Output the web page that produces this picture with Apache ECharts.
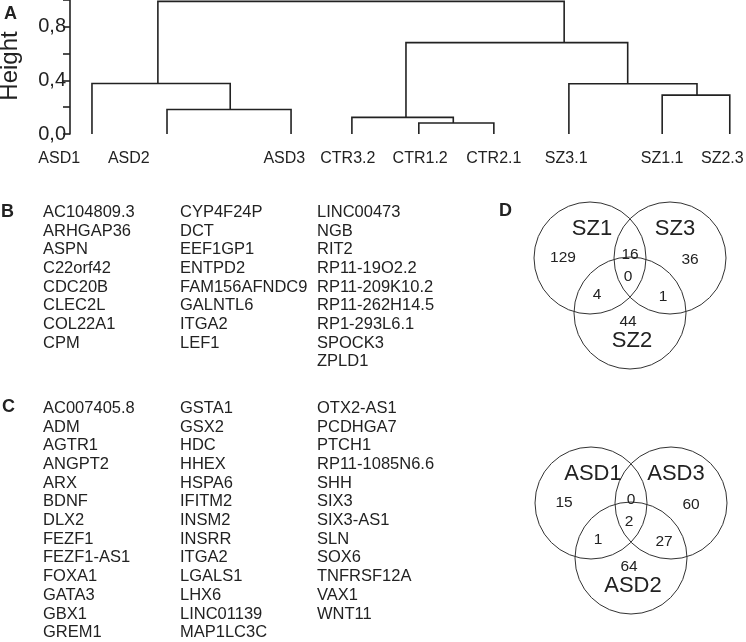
<!DOCTYPE html>
<html><head><meta charset="utf-8">
<script src="https://cdn.jsdelivr.net/npm/echarts@6/dist/echarts.min.js"></script>
<style>html,body{margin:0;padding:0;background:#fff}#c{width:746px;height:642px}</style>
</head><body><div id="c"></div>
<script>
// ---- Panel A: dendrogram data ----
const leafNames = ['ASD1','ASD2','ASD3','CTR3.2','CTR1.2','CTR2.1','SZ3.1','SZ1.1','SZ2.3'];
const leafPos   = [3.25, 14.35, 32.7, 41.7, 51.6, 62.7, 73.8, 87.6, 97.6];
const labelPos  = [-1.6, 8.7, 31.7, 41.1, 51.8, 62.7, 73.4, 87.6, 96.5];
// hclust-style merges: negative = leaf (1-based), positive = earlier merge (1-based)
const mergeLeft   = [-5, -4, -2, -8, -7, -1, 2, 6];
const mergeRight  = [-6,  1, -3, -9,  4,  3, 5, 7];
const mergeHeight = [0.082, 0.124, 0.183, 0.290, 0.375, 0.377, 0.682, 0.99];
const mergePos    = [56.7, 49.7, 23.7, 92.75, 82.5, 13.0, 73.1, 43.0];
const yTicks = [0, 0.4, 0.8];

// ---- Panel B / C gene lists ----
const listB1 = ['AC104809.3','ARHGAP36','ASPN','C22orf42','CDC20B','CLEC2L','COL22A1','CPM'];
const listB2 = ['CYP4F24P','DCT','EEF1GP1','ENTPD2','FAM156AFNDC9','GALNTL6','ITGA2','LEF1'];
const listB3 = ['LINC00473','NGB','RIT2','RP11-19O2.2','RP11-209K10.2','RP11-262H14.5','RP1-293L6.1','SPOCK3','ZPLD1'];
const listC1 = ['AC007405.8','ADM','AGTR1','ANGPT2','ARX','BDNF','DLX2','FEZF1','FEZF1-AS1','FOXA1','GATA3','GBX1','GREM1'];
const listC2 = ['GSTA1','GSX2','HDC','HHEX','HSPA6','IFITM2','INSM2','INSRR','ITGA2','LGALS1','LHX6','LINC01139','MAP1LC3C'];
const listC3 = ['OTX2-AS1','PCDHGA7','PTCH1','RP11-1085N6.6','SHH','SIX3','SIX3-AS1','SLN','SOX6','TNFRSF12A','VAX1','WNT11'];

// ---- Panel D Venn data: [A only, A&B, B only, A&B&C, A&C, B&C, C only] ----
const vennSZSets  = ['SZ1','SZ3','SZ2'];
const vennSZCounts = [129, 16, 36, 0, 4, 1, 44];
const vennASDSets = ['ASD1','ASD3','ASD2'];
const vennASDCounts = [15, 0, 60, 2, 1, 27, 64];

const FONT = "'Liberation Sans', Arial, Helvetica, sans-serif";
const INK = '#222';

// build dendrogram segments
function nodeX(id){ return id < 0 ? leafPos[-id-1] : mergePos[id-1]; }
function nodeH(id){ return id < 0 ? 0 : mergeHeight[id-1]; }
const dendroData = mergeHeight.map((h,i)=>[nodeX(mergeLeft[i]), nodeH(mergeLeft[i]), nodeX(mergeRight[i]), nodeH(mergeRight[i]), h]);
const leafLabelData = leafNames.map((n,i)=>[labelPos[i], 0, n]);

const chart = echarts.init(document.getElementById('c'), null, {renderer:'canvas'});

const graphics = [];
function panelLetter(t,x,y){ graphics.push({type:'text', left:x, top:y, style:{text:t, font:'bold 18px '+FONT, fill:INK}}); }
panelLetter('A', 4, 5);
panelLetter('B', 1, 203);
panelLetter('C', 2, 398);
panelLetter('D', 499, 202);
graphics.push({type:'text', x:10, y:66, rotation:Math.PI/2, style:{text:'Height', font:'24px '+FONT, fill:INK, textAlign:'center', textVerticalAlign:'middle'}});

function list(arr, x, yTop){
  graphics.push({type:'text', x:x, y:yTop, style:{text:arr.join('\n'), font:'16.5px '+FONT, fill:INK, lineHeight:18.7, textVerticalAlign:'top'}});
}
list(listB1, 43, 203); list(listB2, 180, 203); list(listB3, 317, 203);
list(listC1, 43, 399); list(listC2, 180, 399); list(listC3, 317, 399);

function venn(cx, cy, sets, counts){
  // three circles: top-left, top-right, bottom
  const r = 56;
  const cs = [[cx-40, cy-28],[cx+40, cy-28],[cx, cy+27]];
  cs.forEach(c=>graphics.push({type:'circle', shape:{cx:c[0], cy:c[1], r:r}, style:{fill:'none', stroke:'#333', lineWidth:1}}));
  const setPos = [[cx-38, cy-57],[cx+45, cy-57],[cx+2, cy+55]];
  sets.forEach((s,i)=>graphics.push({type:'text', x:setPos[i][0], y:setPos[i][1], style:{text:s, font:'22px '+FONT, fill:INK, textAlign:'center', textVerticalAlign:'middle'}}));
  const cp = [[cx-67, cy-28],[cx, cy-31],[cx+60, cy-26],[cx-2, cy-9],[cx-33, cy+9],[cx+33, cy+11],[cx-2, cy+36]];
  counts.forEach((v,i)=>graphics.push({type:'text', x:cp[i][0], y:cp[i][1], style:{text:String(v), font:'15.5px '+FONT, fill:INK, textAlign:'center', textVerticalAlign:'middle'}}));
}
venn(630, 286, vennSZSets, vennSZCounts);
venn(631, 531, vennASDSets, vennASDCounts);

chart.setOption({
  animation:false,
  backgroundColor:'#fff',
  grid:{left:70, right:0, top:0, height:134},
  xAxis:{type:'value', min:0, max:100, show:false},
  yAxis:{type:'value', min:0, max:1, interval:0.2,
    axisLine:{show:true, lineStyle:{color:INK, width:1.6}},
    axisTick:{show:true, length:7, lineStyle:{color:INK, width:1.6}},
    splitLine:{show:false},
    axisLabel:{fontFamily:FONT, fontSize:20, color:INK, margin:4,
      formatter:v=>{ const t=yTicks.find(x=>Math.abs(x-v)<1e-6); return t===undefined?'':t.toFixed(1).replace('.',','); }}
  },
  series:[
    {type:'custom', clip:false, data:dendroData,
     renderItem:(params, api)=>{
       const a = api.coord([api.value(0), api.value(1)]);
       const a2 = api.coord([api.value(0), api.value(4)]);
       const b2 = api.coord([api.value(2), api.value(4)]);
       const b = api.coord([api.value(2), api.value(3)]);
       return {type:'polyline', shape:{points:[a,a2,b2,b]}, style:{stroke:INK, lineWidth:1.6, fill:null}};
     }},
    {type:'custom', clip:false, data:leafLabelData,
     renderItem:(params, api)=>{
       const p = api.coord([api.value(0), 0]);
       return {type:'text', x:p[0], y:p[1]+25, style:{text:leafLabelData[params.dataIndex][2], font:'16px '+FONT, fill:INK, textAlign:'center', textVerticalAlign:'middle'}};
     }}
  ],
  graphic:graphics
});
</script></body></html>
